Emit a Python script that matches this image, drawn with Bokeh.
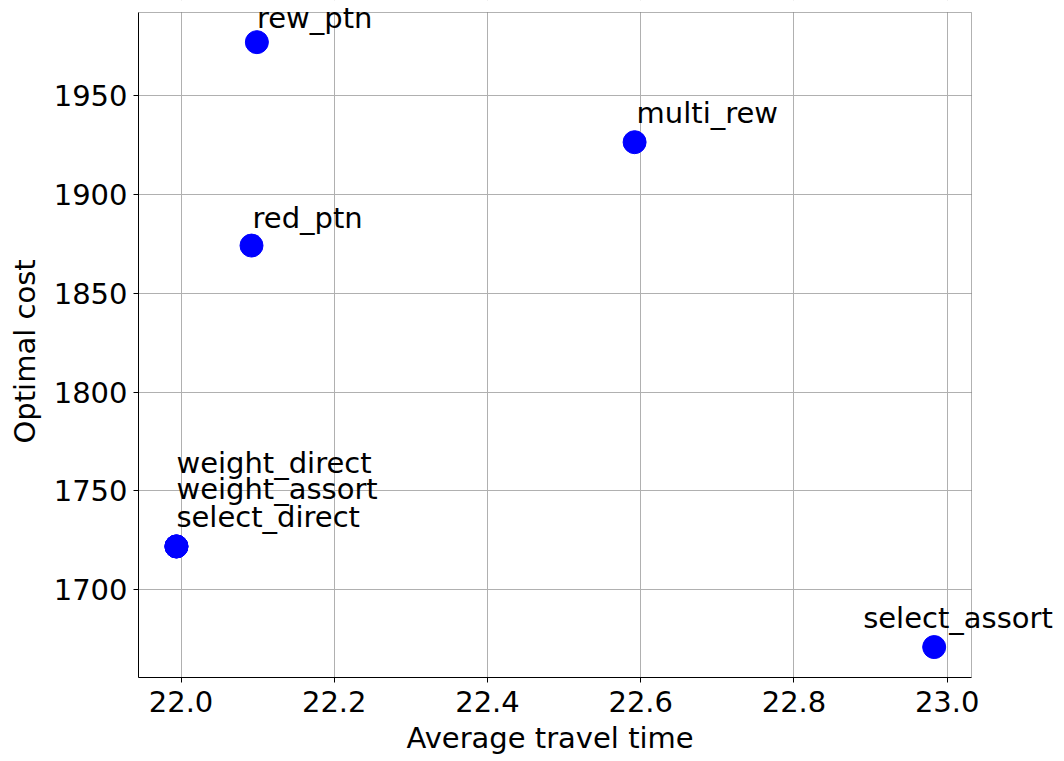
from bokeh.plotting import figure
from bokeh.models import (ColumnDataSource, LabelSet, Range1d, FixedTicker,
                          BoxAnnotation, PrintfTickFormatter, Title)
from bokeh.core.properties import value
from bokeh.embed import file_html
from bokeh.resources import INLINE

# ---- data ----
methods = ["rew_ptn", "multi_rew", "red_ptn", "weight_direct",
           "weight_assort", "select_direct", "select_assort"]
avg_travel_time = [22.099, 22.592, 22.092, 21.994, 21.994, 21.994, 22.983]
optimal_cost = [1977.0, 1926.4, 1874.1, 1721.9, 1721.9, 1721.9, 1671.0]
x_ticks = [22.0, 22.2, 22.4, 22.6, 22.8, 23.0]
y_ticks = [1700, 1750, 1800, 1850, 1900, 1950]
x_label = "Average travel time"
y_label = "Optimal cost"

# ---- axes box limits (visible plotting area) ----
x_lo, x_hi = 21.9445, 23.0317
y_lo, y_hi = 1655.6, 1992.0

# ---- label placement (screen-pixel offsets, style only) ----
label_dx = [0, 2, 1, 0, 0, 0, -71]
label_dy = [14, 19, 18, 73, 47, 19, 19]

FONT_NAME = "DejaVu Sans"
FS = "29px"

# layout in pixels
LEFT, BOX_W, BOX_H, TOP_PAD, RIGHT_PAD, BOTTOM = 138, 833, 665, 12, 90, 84
px_x = BOX_W / (x_hi - x_lo)
px_y = BOX_H / (y_hi - y_lo)
# the drawing frame is extended upward and to the right so that
# labels may overflow the axes box, as in the reference
x_ext = x_hi + RIGHT_PAD / px_x
y_ext = y_hi + TOP_PAD / px_y

src = ColumnDataSource(dict(x=avg_travel_time, y=optimal_cost, name=methods,
                            dx=label_dx, dy=label_dy))

p = figure(frame_width=BOX_W + RIGHT_PAD, frame_height=BOX_H + TOP_PAD,
           x_range=Range1d(x_lo, x_ext), y_range=Range1d(y_lo, y_ext),
           output_backend="svg", toolbar_location=None,
           min_border_left=LEFT, min_border_right=0,
           min_border_top=0, min_border_bottom=BOTTOM,
           background_fill_color="white", border_fill_color="white")
p.outline_line_color = None

# white masks over the extension strips (hide grid lines there)
mask_kw = dict(fill_color="white", fill_alpha=1, line_color=None, level="glyph")
p.add_layout(BoxAnnotation(left=x_hi, **mask_kw))
p.add_layout(BoxAnnotation(bottom=y_hi, **mask_kw))
# axes box outline
p.add_layout(BoxAnnotation(left=x_lo, right=x_hi, bottom=y_lo, top=y_hi,
                           fill_color=None, fill_alpha=0, line_color="black",
                           line_width=1, level="guide"))

p.scatter("x", "y", source=src, size=23, fill_color="blue", line_color="blue")

labels = LabelSet(x="x", y="y", text="name", x_offset="dx", y_offset="dy",
                  source=src, text_font=value(FONT_NAME), text_font_size=FS,
                  text_color="black", text_baseline="alphabetic",
                  text_align="left", level="overlay")
p.add_layout(labels)

p.xaxis.ticker = FixedTicker(ticks=x_ticks)
p.yaxis.ticker = FixedTicker(ticks=y_ticks)
p.xaxis.formatter = PrintfTickFormatter(format="%.1f")
p.xaxis.bounds = (x_lo, x_hi)
p.yaxis.bounds = (y_lo, y_hi)

for ax in (p.xaxis, p.yaxis):
    ax.axis_line_color = "black"
    ax.major_tick_line_color = "black"
    ax.major_tick_out = 5
    ax.major_tick_in = 0
    ax.minor_tick_line_color = None
    ax.major_label_text_font = FONT_NAME
    ax.major_label_text_font_size = FS
    ax.major_label_text_color = "black"
p.xaxis.major_label_standoff = 8
p.yaxis.major_label_standoff = 6

# axis titles placed on the axes box (not on the extended frame)
title_kw = dict(text_font=FONT_NAME, text_font_size=FS, text_font_style="normal",
                text_color="black", align="left")
p.add_layout(Title(text=x_label, offset=268, standoff=8, **title_kw), "below")
p.add_layout(Title(text=y_label, offset=234, standoff=14, vertical_align="top",
                   **title_kw), "left")

p.grid.grid_line_color = "#b0b0b0"
p.grid.grid_line_width = 1

open("out.html", "w").write(file_html(p, INLINE))
